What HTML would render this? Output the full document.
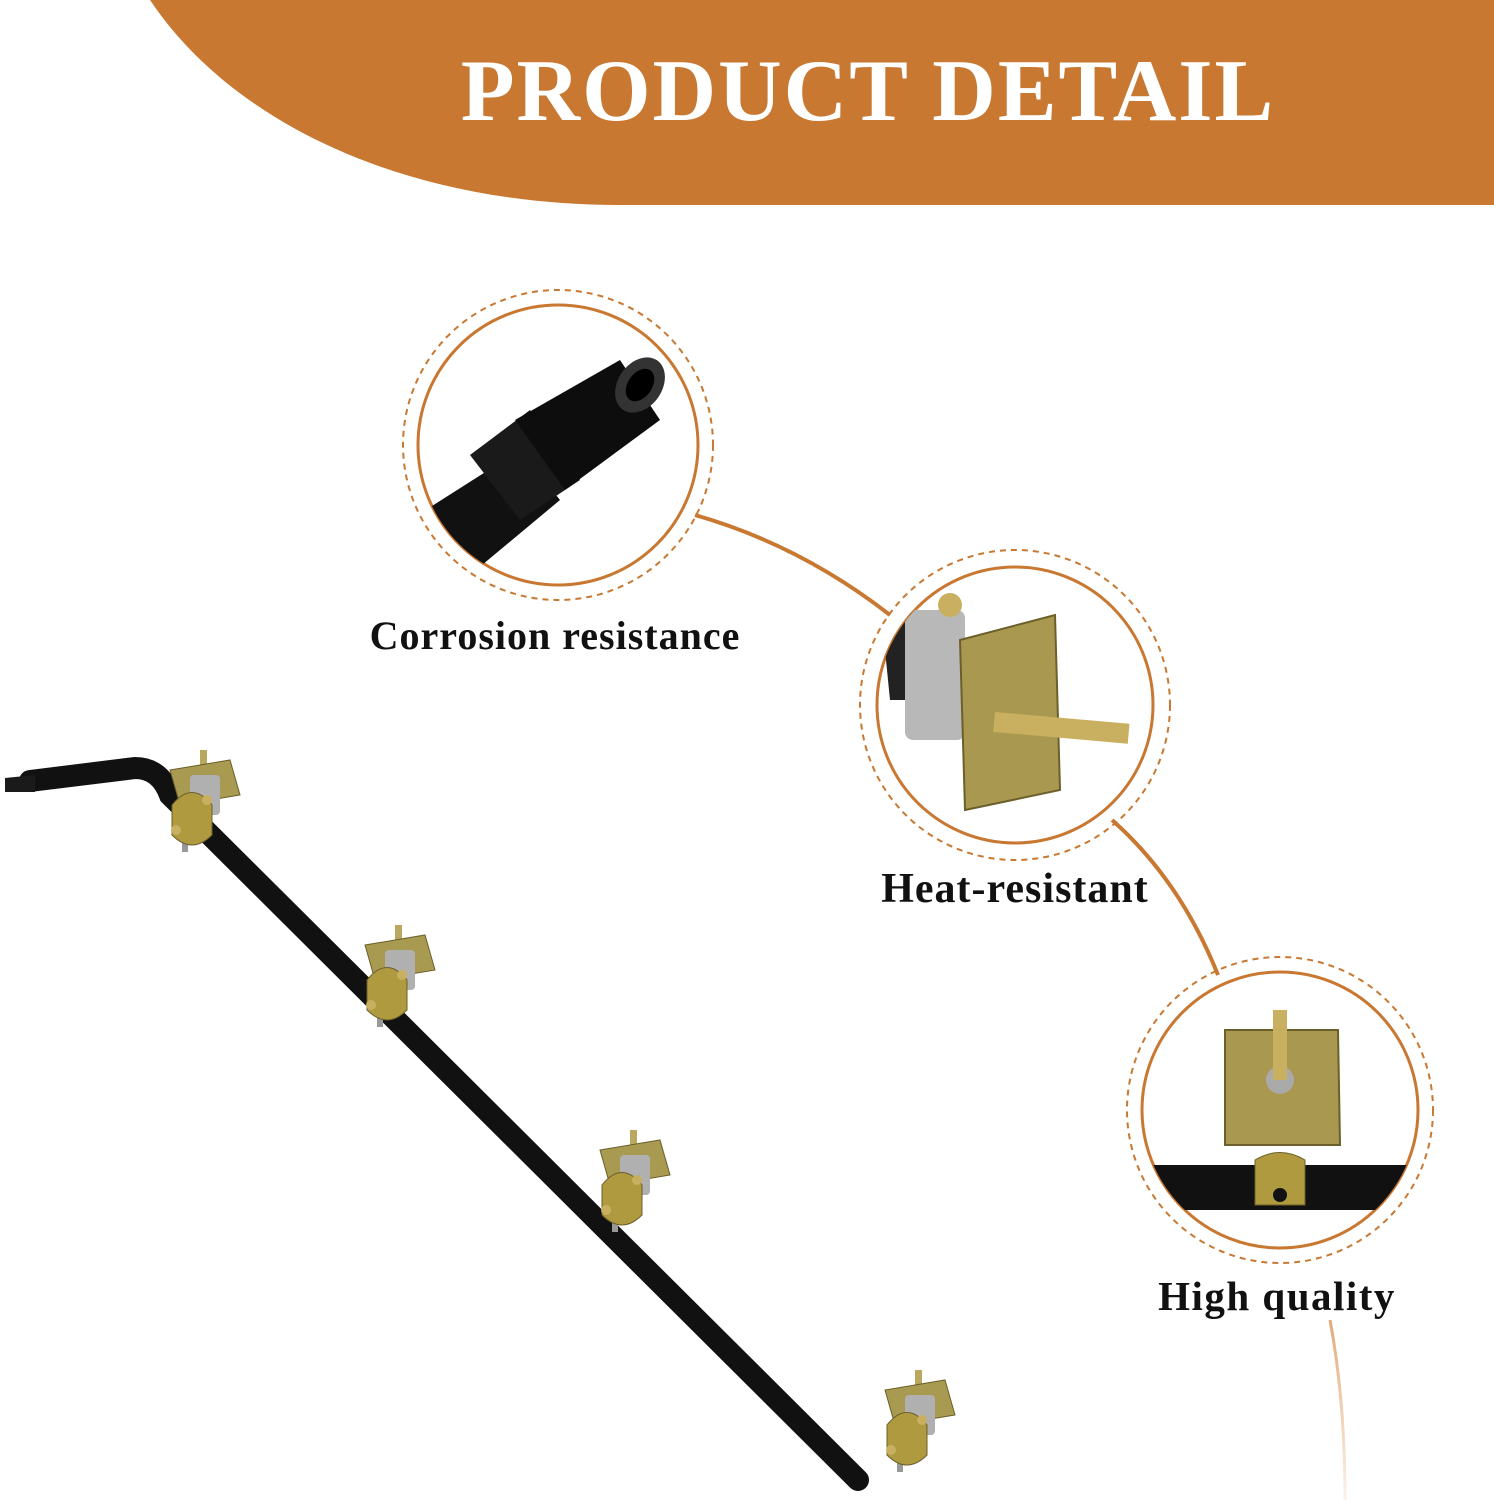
<!DOCTYPE html>
<html><head><style>
body{margin:0;background:#fff;}
svg{display:block}
text{font-family:"Liberation Serif",serif;font-weight:bold;}
</style></head><body>
<svg width="1494" height="1500" viewBox="0 0 1494 1500">
<defs>
<linearGradient id="fadeL" x1="0" x2="1"><stop offset="0" stop-color="#e9b98a" stop-opacity="0"/><stop offset="1" stop-color="#e2a877"/></linearGradient>
<linearGradient id="fadeD" x1="0" y1="0" x2="0" y2="1"><stop offset="0" stop-color="#e2a877"/><stop offset="1" stop-color="#e9b98a" stop-opacity="0.2"/></linearGradient>
<clipPath id="c1"><circle cx="558" cy="445" r="140"/></clipPath>
<clipPath id="c2"><circle cx="1015" cy="705" r="138"/></clipPath>
<clipPath id="c3"><circle cx="1280" cy="1110" r="138"/></clipPath>
<g id="valve">
 <rect x="-10" y="-50" width="7" height="40" fill="#b8a860"/>
 <path d="M-40,-30 L20,-40 L30,-5 L-30,5 Z" fill="#a89a50" stroke="#6b5f2a"/>
 <rect x="-20" y="-25" width="30" height="40" rx="4" fill="#b0b0b0"/>
 <rect x="-28" y="30" width="6" height="22" fill="#999"/>
 <path d="M-38,5 q20,-25 40,0 l0,30 q-20,20 -40,0 z" fill="#b09a40" stroke="#6b5f2a"/>
 <circle cx="-34" cy="30" r="5" fill="#c9b060"/>
 <circle cx="-3" cy="0" r="5" fill="#c9b060"/>
</g>
</defs>

<path d="M150,0 C230,120 400,205 620,205 L1494,205 L1494,0 Z" fill="#C97832"/>
<text x="868" y="120" font-size="88" fill="#fff" text-anchor="middle" letter-spacing="2">PRODUCT DETAIL</text>

<line x1="150" y1="440" x2="405" y2="440" stroke="url(#fadeL)" stroke-width="3"/>
<path d="M695,515 Q800,545 890,615" fill="none" stroke="#C97832" stroke-width="4"/>
<path d="M1112,820 Q1180,880 1218,975" fill="none" stroke="#C97832" stroke-width="4"/>
<path d="M1330,1320 Q1345,1400 1345,1500" fill="none" stroke="url(#fadeD)" stroke-width="3"/>

<circle cx="558" cy="445" r="155" fill="none" stroke="#C97832" stroke-width="2" stroke-dasharray="6,5"/>
<circle cx="558" cy="445" r="140" fill="#fff" stroke="#C97832" stroke-width="3"/>
<g clip-path="url(#c1)">
 <path d="M410,520 L520,450 L560,500 L440,600 Z" fill="#111"/>
 <path d="M470,455 L530,410 L580,480 L520,520 Z" fill="#1a1a1a"/>
 <path d="M515,420 L620,360 L660,420 L565,490 Z" fill="#0d0d0d"/>
 <ellipse cx="640" cy="385" rx="22" ry="30" transform="rotate(35 640 385)" fill="#333"/>
 <ellipse cx="640" cy="385" rx="12" ry="18" transform="rotate(35 640 385)" fill="#000"/>
</g>
<circle cx="1015" cy="705" r="155" fill="none" stroke="#C97832" stroke-width="2" stroke-dasharray="6,5"/>
<circle cx="1015" cy="705" r="138" fill="#fff" stroke="#C97832" stroke-width="3"/>
<g clip-path="url(#c2)">
 <path d="M880,600 L940,620 L960,700 L890,700 Z" fill="#222"/>
 <rect x="905" y="610" width="60" height="130" rx="8" fill="#b8b8b8"/>
 <path d="M960,640 L1055,615 L1060,790 L965,810 Z" fill="#a89850" stroke="#6b5f2a" stroke-width="2"/>
 <rect x="995" y="712" width="135" height="20" fill="#c9b060" transform="rotate(5 995 712)"/>
 <circle cx="950" cy="605" r="12" fill="#c9b060"/>
</g>
<circle cx="1280" cy="1110" r="153" fill="none" stroke="#C97832" stroke-width="2" stroke-dasharray="6,5"/>
<circle cx="1280" cy="1110" r="138" fill="#fff" stroke="#C97832" stroke-width="3"/>
<g clip-path="url(#c3)">
 <rect x="1130" y="1165" width="300" height="45" rx="20" fill="#111"/>
 <path d="M1225,1030 L1338,1030 L1340,1145 L1225,1145 Z" fill="#a89850" stroke="#6b5f2a" stroke-width="2"/>
 <circle cx="1280" cy="1080" r="14" fill="#aaa"/>
 <rect x="1273" y="1010" width="14" height="70" fill="#c9b060"/>
 <path d="M1255,1160 q25,-15 50,0 l0,45 l-50,0 z" fill="#b09a40" stroke="#6b5f2a"/>
 <circle cx="1280" cy="1195" r="7" fill="#111"/>
</g>

<text x="555" y="649" font-size="40" fill="#111" text-anchor="middle" letter-spacing="1">Corrosion resistance</text>
<text x="1015" y="902" font-size="42" fill="#111" text-anchor="middle" letter-spacing="1">Heat-resistant</text>
<text x="1277" y="1310" font-size="41" fill="#111" text-anchor="middle" letter-spacing="1.5">High quality</text>

<path d="M30,781 L135,768 Q160,768 170,795 L858,1480" fill="none" stroke="#111" stroke-width="22" stroke-linecap="round"/>
<path d="M5,778 L35,775 L35,792 L5,792 Z" fill="#1a1a1a"/>
<use href="#valve" x="210" y="800"/>
<use href="#valve" x="405" y="975"/>
<use href="#valve" x="640" y="1180"/>
<use href="#valve" x="925" y="1420"/>
</svg>
</body></html>
